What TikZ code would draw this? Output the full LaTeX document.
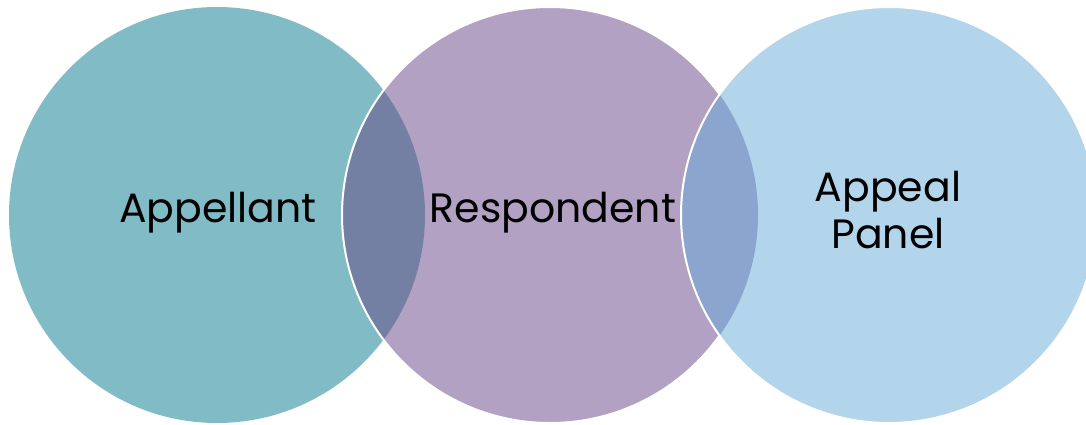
\documentclass[tikz,border=0pt]{standalone}
\usepackage{fontspec}
\setmainfont{Poppins}
\begin{document}
\begin{tikzpicture}[x=1pt,y=-1pt,
  lbl/.style={font=\fontsize{41}{47}\selectfont, text=black, align=center, inner sep=0pt},
  wline/.style={draw=white, line width=2pt}]
\definecolor{cA}{HTML}{81BBC6}
\definecolor{cB}{HTML}{B2A1C3}
\definecolor{cC}{HTML}{B3D5EC}
\definecolor{lAB}{HTML}{737FA3}
\definecolor{lBC}{HTML}{8BA5CE}
\def\R{208}
\useasboundingbox (0,0) rectangle (1086,424);
\clip (0,0) rectangle (1086,424);
\coordinate (ca) at (217,215);
\coordinate (cb) at (550,215);
\coordinate (cc) at (889,215);
% circle 1
\fill[cA] (ca) circle (\R);
% circle 2
\fill[cB] (cb) circle (\R);
\begin{scope}
  \clip (ca) circle (\R);
  \fill[lAB] (cb) circle (\R);
\end{scope}
\draw[wline] (cb) circle (\R);
% circle 3
\fill[cC] (cc) circle (\R);
\begin{scope}
  \clip (cb) circle (\R);
  \fill[lBC] (cc) circle (\R);
\end{scope}
\draw[wline] (cc) circle (\R);
% labels
\node[lbl] (appellant) at (218,213) {Appellant};
\node[lbl] (respondent) at (553,213) {Respondent};
\node[lbl] (panel) at (888,210) {Appeal\\Panel};
\end{tikzpicture}
\end{document}
